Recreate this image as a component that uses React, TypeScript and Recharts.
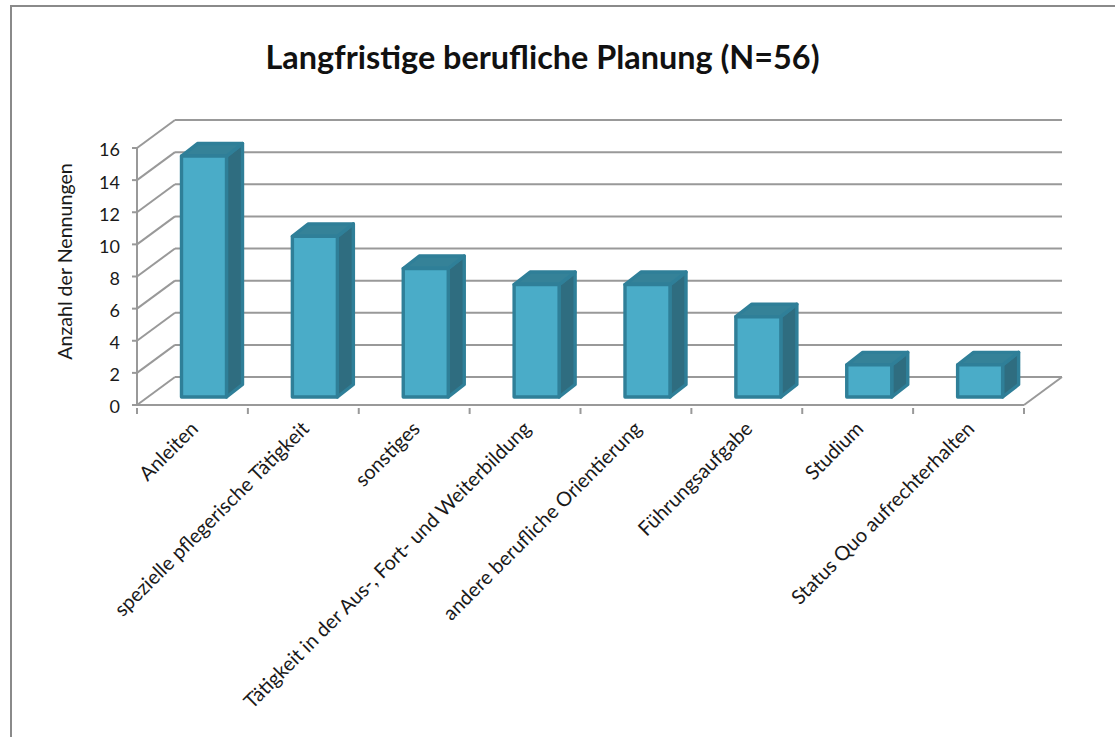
import React from 'react';
import { BarChart, Bar, XAxis, YAxis, CartesianGrid } from 'recharts';

const categories = [
  'Anleiten',
  'spezielle pflegerische Tätigkeit',
  'sonstiges',
  'Tätigkeit in der Aus-, Fort- und Weiterbildung',
  'andere berufliche Orientierung',
  'Führungsaufgabe',
  'Studium',
  'Status Quo aufrechterhalten',
];
const counts = [15, 10, 8, 7, 7, 5, 2, 2];
const yTicks = [0, 2, 4, 6, 8, 10, 12, 14, 16];

const data = categories.map((name, i) => ({ name, count: counts[i] }));

const FONT = 'Lato, "Open Sans", sans-serif';
const GRID = '#999999';
const TEXT = '#1a1a1a';

// depth of the fake 3D box
const WALL_DX = 38;
const WALL_DY = 28;
const BAND = 887 / 8;

function GridLine({ x1, x2, y1 }: any) {
  const backY = y1 - WALL_DY;
  const isFloor = Math.abs(y1 - 405) < 2;
  return (
    <g stroke={GRID} strokeWidth={2} fill="none">
      <line x1={x1} y1={y1} x2={x1 + WALL_DX} y2={backY} />
      <line x1={x1 + WALL_DX} y1={backY} x2={x2 + WALL_DX} y2={backY} />
      {isFloor && <line x1={x2} y1={y1} x2={x2 + WALL_DX} y2={backY} />}
    </g>
  );
}

function Box3D({ x, y, width, height }: any) {
  const dx = 16;
  const dy = 12.5;
  const left = x + 11.5;
  const right = left + width;
  const top = y - 8;
  const bottom = top + height;
  const edge = { stroke: '#2f7f98', strokeWidth: 3.4, strokeLinejoin: 'round' as const };
  return (
    <g>
      <polygon
        points={`${right},${top} ${right + dx},${top - dy} ${right + dx},${bottom - dy} ${right},${bottom}`}
        fill="#2f6d80"
        {...edge}
      />
      <polygon
        points={`${left},${top} ${left + dx},${top - dy} ${right + dx},${top - dy} ${right},${top}`}
        fill="#358298"
        {...edge}
      />
      <rect x={left} y={top} width={width} height={height} fill="#4aacc8" {...edge} />
    </g>
  );
}

function CategoryTick({ x, y, payload, index }: any) {
  const last = index === categories.length - 1;
  return (
    <g>
      <line x1={x - BAND / 2} y1={y - 5} x2={x - BAND / 2} y2={y + 1} stroke={GRID} strokeWidth={2} />
      {last && (
        <line x1={x + BAND / 2} y1={y - 5} x2={x + BAND / 2} y2={y + 1} stroke={GRID} strokeWidth={2} />
      )}
      <text
        x={x + 7}
        y={y + 17}
        transform={`rotate(-45 ${x + 7} ${y + 17})`}
        textAnchor="end"
        fontFamily={FONT}
        fontSize={20}
        fill={TEXT}
      >
        {payload.value}
      </text>
    </g>
  );
}

export default function App() {
  return (
    <div style={{ position: 'absolute', left: 0, top: 0, width: 1115, height: 737, overflow: 'hidden', background: '#fff' }}>
      <div
        style={{
          position: 'absolute',
          left: 10,
          top: 5,
          width: 1105,
          height: 732,
          borderTop: '2px solid #8a8a8a',
          borderLeft: '2px solid #8a8a8a',
        }}
      />
      <div
        style={{
          position: 'absolute',
          left: 0,
          top: 37,
          width: 1085,
          textAlign: 'center',
          fontFamily: FONT,
          fontWeight: 700,
          fontSize: 32.4,
          lineHeight: '40px',
          color: '#111',
        }}
      >
        Langfristige berufliche Planung (N=56)
      </div>
      <div style={{ position: 'absolute', left: 0, top: 0 }}>
        <BarChart
          width={1115}
          height={737}
          data={data}
          barSize={45}
          margin={{ top: 148, right: 91, left: 0, bottom: 0 }}
        >
          <CartesianGrid vertical={false} horizontal={(p: any) => <GridLine key={p.key} {...p} />} />
          <XAxis
            dataKey="name"
            height={332}
            interval={0}
            axisLine={{ stroke: GRID, strokeWidth: 2 }}
            tickLine={false}
            tick={<CategoryTick />}
          />
          <YAxis
            width={137}
            domain={[0, 16]}
            ticks={yTicks}
            axisLine={{ stroke: GRID, strokeWidth: 2 }}
            tickLine={{ stroke: GRID, strokeWidth: 2 }}
            tickSize={5}
            tickMargin={12}
            tick={{ fill: TEXT, fontFamily: FONT, fontSize: 18, dy: 2 }}
            label={{
              value: 'Anzahl der Nennungen',
              angle: -90,
              position: 'insideLeft',
              offset: 0,
              dx: 65,
              dy: -15,
              style: { textAnchor: 'middle', fontFamily: FONT, fontSize: 19.6, fill: TEXT },
            }}
          />
          <Bar dataKey="count" shape={<Box3D />} isAnimationActive={false} />
        </BarChart>
      </div>
    </div>
  );
}
